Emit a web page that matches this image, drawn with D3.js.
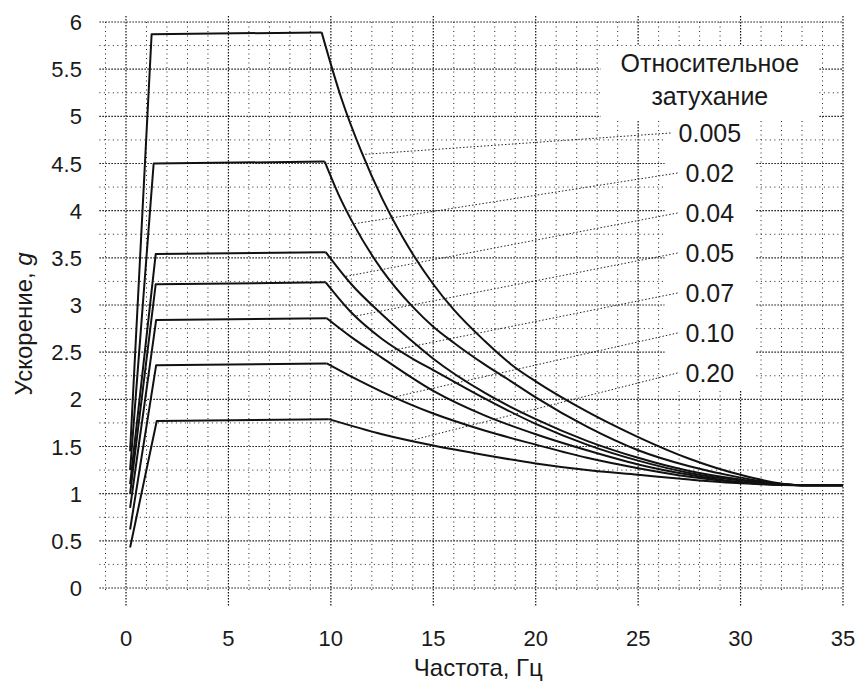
<!DOCTYPE html>
<html>
<head>
<meta charset="utf-8">
<script src="https://cdn.jsdelivr.net/npm/d3@7/dist/d3.min.js"></script>
<style>
body { margin: 0; background: #fff; }
text { font-family: "Liberation Sans", Arial, sans-serif; fill: #1a1a1a; }
</style>
</head>
<body>
<svg id="chart"></svg>
<script>
let width = 861;
let height = 681;
let margin = {top: 22, right: 18, bottom: 93, left: 126};

// частоты / ускорения для осей
let freqTicks = [0, 5, 10, 15, 20, 25, 30, 35];
let accTicks = [0, 0.5, 1, 1.5, 2, 2.5, 3, 3.5, 4, 4.5, 5, 5.5, 6];

// относительное затухание
let damping = ['0.005', '0.02', '0.04', '0.05', '0.07', '0.10', '0.20'];

// [частота, ускорение] для каждой кривой
let spec005 = [[0.2, 1.45], [1.25, 5.87], [9.55, 5.89], [10.5, 5.20], [11.5, 4.62], [12.5, 4.13], [13.5, 3.72], [15, 3.22], [16, 2.95], [17.5, 2.62], [18.8, 2.37], [20, 2.19], [22, 1.93], [25, 1.60], [27.5, 1.37], [30, 1.20], [33, 1.09], [35, 1.09]];
let spec02 = [[0.2, 1.25], [1.35, 4.50], [9.7, 4.52], [10.4, 4.16], [11.1, 3.86], [12.5, 3.37], [14, 2.98], [15, 2.77], [16, 2.60], [17.5, 2.37], [18.8, 2.19], [20, 2.02], [22.5, 1.71], [25, 1.46], [27.5, 1.29], [30, 1.17], [33, 1.09], [35, 1.09]];
let spec04 = [[0.2, 1.10], [1.45, 3.54], [9.75, 3.56], [11, 3.22], [12.5, 2.90], [14, 2.61], [15, 2.43], [17.5, 2.07], [20, 1.79], [22.5, 1.56], [25, 1.38], [27.5, 1.24], [30, 1.15], [33, 1.09], [35, 1.09]];
let spec05 = [[0.2, 1.00], [1.45, 3.22], [9.75, 3.24], [11, 2.92], [12.5, 2.64], [14, 2.43], [15, 2.31], [17.5, 2.01], [20, 1.74], [22.5, 1.52], [25, 1.35], [27.5, 1.22], [30, 1.14], [33, 1.09], [35, 1.09]];
let spec07 = [[0.2, 0.85], [1.47, 2.84], [9.8, 2.86], [11, 2.66], [12.5, 2.44], [15, 2.09], [17.5, 1.83], [20, 1.63], [22.5, 1.46], [25, 1.31], [27.5, 1.20], [30, 1.12], [33, 1.09], [35, 1.09]];
let spec10 = [[0.2, 0.62], [1.47, 2.36], [9.8, 2.38], [11, 2.24], [12.5, 2.08], [15, 1.85], [17.5, 1.67], [20, 1.52], [22.5, 1.38], [25, 1.27], [27.5, 1.18], [30, 1.12], [33, 1.09], [35, 1.09]];
let spec20 = [[0.2, 0.43], [1.5, 1.77], [9.9, 1.79], [12.5, 1.63], [15, 1.51], [17.5, 1.41], [20, 1.32], [22.5, 1.25], [25, 1.20], [27.5, 1.15], [30, 1.11], [33, 1.09], [35, 1.09]];

// частота, где выноска касается кривой
let leaderFreq = [11.55, 11.1, 10.7, 11.2, 12.2, 13.1, 13.9];

let curves = [spec005, spec02, spec04, spec05, spec07, spec10, spec20];

function draw_chart() {
    let svg = d3.select('#chart')
        .attr('width', width)
        .attr('height', height);

    let x = d3.scaleLinear().domain([0, 35]).range([margin.left, width - margin.right]);
    let y = d3.scaleLinear().domain([0, 6]).range([height - margin.bottom, margin.top]);

    // сетка (пунктир как на скане)
    let grid = svg.append('g').attr('fill', 'none');
    let minorX = d3.range(-1, 35, 1).filter(d => d % 5 !== 0);
    let minorY = d3.range(0.25, 6, 0.5);

    grid.selectAll('.minx').data(minorX).join('line')
        .attr('x1', d => x(d)).attr('x2', d => x(d))
        .attr('y1', y(6)).attr('y2', y(-0.04))
        .attr('stroke', '#222').attr('stroke-width', 1)
        .attr('stroke-dasharray', '1,3.5');
    grid.selectAll('.miny').data(minorY).join('line')
        .attr('x1', x(-1.3)).attr('x2', x(35))
        .attr('y1', d => y(d)).attr('y2', d => y(d))
        .attr('stroke', '#222').attr('stroke-width', 1)
        .attr('stroke-dasharray', '1,3.5');
    grid.selectAll('.majx').data(freqTicks).join('line')
        .attr('x1', d => x(d)).attr('x2', d => x(d))
        .attr('y1', y(6) - 6).attr('y2', y(-0.2))
        .attr('stroke', '#111').attr('stroke-width', 1.2)
        .attr('stroke-dasharray', '1.5,1.5');
    grid.selectAll('.majy').data(accTicks).join('line')
        .attr('x1', x(-1.3)).attr('x2', x(35))
        .attr('y1', d => y(d)).attr('y2', d => y(d))
        .attr('stroke', '#111').attr('stroke-width', 1.2)
        .attr('stroke-dasharray', '1.5,1.5');

    // подписи осей
    svg.append('g').selectAll('text').data(freqTicks).join('text')
        .attr('x', d => x(d))
        .attr('y', y(0) + 58)
        .attr('text-anchor', 'middle')
        .style('font-size', '22px')
        .text(d => d);
    svg.append('g').selectAll('text').data(accTicks).join('text')
        .attr('x', x(-2.15))
        .attr('y', d => y(d) + 8)
        .attr('text-anchor', 'end')
        .style('font-size', '22px')
        .text(d => d);

    svg.append('text')
        .attr('x', x(17.2))
        .attr('y', height - 5)
        .attr('text-anchor', 'middle')
        .style('font-size', '24px')
        .text('Частота, Гц');

    let ylab = svg.append('text')
        .attr('transform', `translate(32,${y(2.8)}) rotate(-90)`)
        .attr('text-anchor', 'middle')
        .style('font-size', '24px');
    ylab.append('tspan').text('Ускорение, ');
    ylab.append('tspan').style('font-style', 'italic').text('g');

    // кривые
    let rise = d3.line().x(d => x(d[0])).y(d => y(d[1]));
    let decay = d3.line().x(d => x(d[0])).y(d => y(d[1])).curve(d3.curveMonotoneX);
    let lines = svg.append('g')
        .attr('fill', 'none')
        .attr('stroke', '#111')
        .attr('stroke-width', 2)
        .attr('stroke-linejoin', 'round');
    curves.forEach(c => {
        lines.append('path').attr('d', rise(c.slice(0, 3)));
        lines.append('path').attr('d', decay(c.slice(2)));
    });

    // легенда с выносками
    let lx = x(28.5);
    let legend = svg.append('g');
    let bgTitle = legend.append('rect').attr('fill', '#fff');
    let bgValues = legend.append('rect').attr('fill', '#fff');
    let leaders = legend.append('g');

    let t1 = legend.append('text').attr('x', lx).attr('y', 72)
        .attr('text-anchor', 'middle').style('font-size', '25px')
        .text('Относительное');
    legend.append('text').attr('x', lx).attr('y', 105)
        .attr('text-anchor', 'middle').style('font-size', '25px')
        .text('затухание');
    let tb = t1.node().getBBox();
    bgTitle.attr('x', tb.x - 20).attr('y', 46)
        .attr('width', tb.width + 40).attr('height', 74);

    let minX = Infinity, maxX = -Infinity;
    damping.forEach((d, i) => {
        let cy = 133 + i * 40;
        let t = legend.append('text').attr('x', lx).attr('y', cy + 9)
            .attr('text-anchor', 'middle').style('font-size', '25px')
            .text(d);
        let bb = t.node().getBBox();
        minX = Math.min(minX, bb.x);
        maxX = Math.max(maxX, bb.x + bb.width);
        let c = curves[i];
        let f = leaderFreq[i];
        let k = d3.bisector(p => p[0]).left(c, f);
        let p0 = c[k - 1], p1 = c[k];
        let v = p0[1] + (p1[1] - p0[1]) * (f - p0[0]) / (p1[0] - p0[0]);
        leaders.append('line')
            .attr('x1', bb.x - 8).attr('y1', cy)
            .attr('x2', x(f)).attr('y2', y(v))
            .attr('stroke', '#222').attr('stroke-width', 1)
            .attr('stroke-dasharray', '1.5,2');
    });
    bgValues.attr('x', minX - 14).attr('y', 116)
        .attr('width', maxX - minX + 28).attr('height', 275);
}

draw_chart();
</script>
</body>
</html>
